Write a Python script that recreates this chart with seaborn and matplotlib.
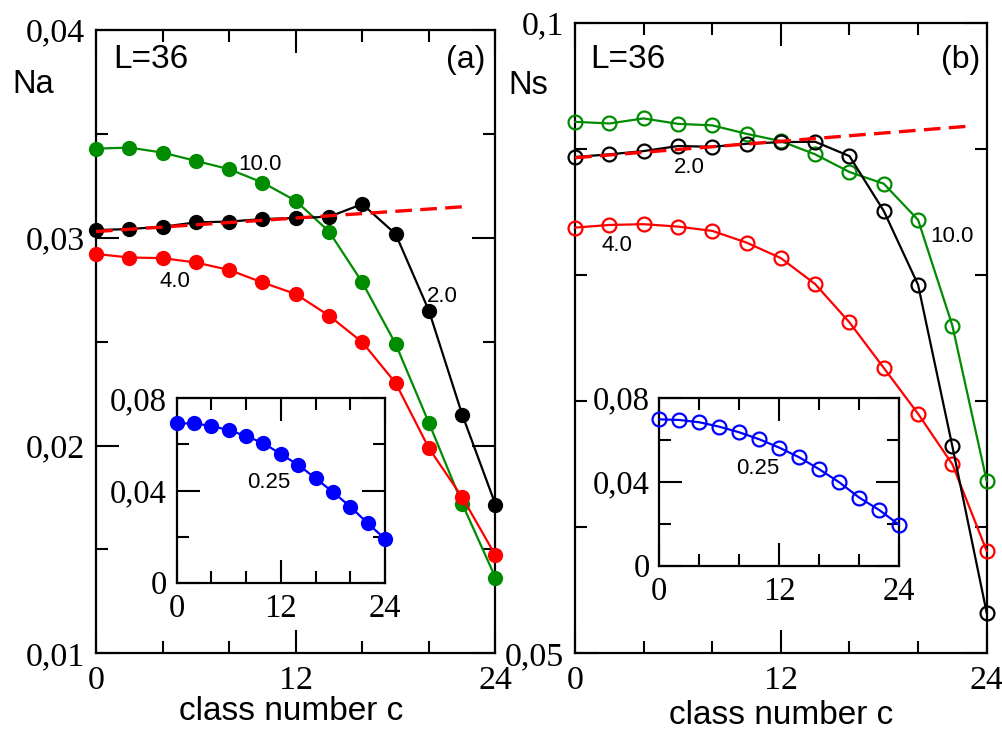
import numpy as np
import pandas as pd
import matplotlib
matplotlib.use("Agg")
import matplotlib.pyplot as plt
import seaborn as sns

# ---------------- data ----------------
c = [0, 2, 4, 6, 8, 10, 12, 14, 16, 18, 20, 22, 24]

# panel (a): Na
na_10 = [0.03429, 0.03434, 0.03410, 0.03370, 0.03330, 0.03266, 0.03178,
         0.03030, 0.02785, 0.02489, 0.02109, 0.01720, 0.01364]
na_2 = [0.03037, 0.03042, 0.03053, 0.03074, 0.03078, 0.03090, 0.03095,
        0.03101, 0.03162, 0.03018, 0.02649, 0.02149, 0.01716]
na_4 = [0.02922, 0.02905, 0.02902, 0.02881, 0.02845, 0.02785, 0.02729,
        0.02625, 0.02497, 0.02301, 0.01987, 0.01751, 0.01471]
na_fit_c = [0, 22]
na_fit = [0.03030, 0.03149]
na_025 = [0.0691, 0.0691, 0.0680, 0.0662, 0.0636, 0.0605, 0.0558,
          0.0511, 0.0453, 0.0393, 0.0330, 0.0258, 0.0190]

# panel (b): Ns
ns_10 = [0.09216, 0.09203, 0.09243, 0.09200, 0.09188, 0.09121, 0.09063,
         0.08958, 0.08818, 0.08725, 0.08438, 0.07599, 0.06366]
ns_2 = [0.08937, 0.08958, 0.08984, 0.09024, 0.09018, 0.09042, 0.09055,
        0.09058, 0.08944, 0.08509, 0.07923, 0.06641, 0.05321]
ns_4 = [0.08377, 0.08398, 0.08404, 0.08385, 0.08351, 0.08258, 0.08135,
        0.07929, 0.07625, 0.07264, 0.06900, 0.06499, 0.05812]
ns_fit_c = [0, 23]
ns_fit = [0.08931, 0.09182]
ns_025 = [0.0697, 0.0694, 0.0683, 0.0662, 0.0635, 0.0602, 0.0562,
          0.0516, 0.0459, 0.0397, 0.0324, 0.0265, 0.0194]

x_ticks_major = [0, 12, 24]
x_tick_labels = ["0", "12", "24"]
na_yticks = [0.01, 0.02, 0.03, 0.04]
na_ylabels = ["0,01", "0,02", "0,03", "0,04"]
ns_yticks = [0.05, 0.1]
ns_ylabels = ["0,05", "0,1"]
in_yticks = [0, 0.04, 0.08]
in_ylabels = ["0", "0,04", "0,08"]

# ---------------- style ----------------
sns.set_style("ticks")
plt.rcParams["font.family"] = ["Liberation Sans", "DejaVu Sans"]
plt.rcParams["text.color"] = "black"
plt.rcParams["xtick.color"] = "black"
plt.rcParams["ytick.color"] = "black"
plt.rcParams["xtick.labelcolor"] = "black"
plt.rcParams["ytick.labelcolor"] = "black"

GREEN = "#008c00"
RED = "#ff0000"
BLACK = "#000000"
BLUE = "#0000ff"

W, H = 1003, 729
fig = plt.figure(figsize=(W / 100, H / 100), dpi=100)


def px_axes(l, t, r, b):
    return fig.add_axes([l / W, 1 - b / H, (r - l) / W, (b - t) / H])


def style_axes(ax, xlim, ylim, yt, ylab, yminor, fs, tick_pad):
    ax.set_xlim(*xlim)
    ax.set_ylim(*ylim)
    ax.set_xticks(x_ticks_major)
    ax.set_xticklabels(x_tick_labels, family="Liberation Serif", fontsize=fs,
                       color="black")
    ax.set_xticks([4, 8, 16, 20], minor=True)
    ax.set_yticks(yt)
    ax.set_yticklabels(ylab, family="Liberation Serif", fontsize=fs,
                       color="black")
    ax.set_yticks(yminor, minor=True)
    ax.tick_params(which="both", direction="in", top=True, right=True,
                   width=1.5, color="black")
    ax.tick_params(which="major", length=16.5)
    ax.tick_params(which="minor", length=8.5)
    ax.tick_params(axis="x", which="major", pad=tick_pad)
    ax.tick_params(axis="y", which="major", pad=tick_pad - 1)
    for s in ax.spines.values():
        s.set_visible(True)
        s.set_linewidth(1.6)
        s.set_color("black")
    ax.set_xlabel("")
    ax.set_ylabel("")
    if ax.get_legend() is not None:
        ax.get_legend().remove()


def series(ax, x, y, color, filled, ms):
    if filled:
        sns.lineplot(x=x, y=y, ax=ax, color=color, linewidth=1.6, marker="o",
                     markersize=ms, markerfacecolor=color,
                     markeredgecolor=color, markeredgewidth=0, clip_on=False,
                     zorder=3)
    else:
        sns.lineplot(x=x, y=y, ax=ax, color=color, linewidth=1.6, marker="o",
                     markersize=ms, markerfacecolor="none",
                     markeredgecolor=color, markeredgewidth=1.6, clip_on=False,
                     zorder=3)


# ---------------- panel (a) ----------------
ax_a = px_axes(96, 30, 495.5, 653.3)
series(ax_a, c, na_10, GREEN, True, 11)
series(ax_a, c, na_4, RED, True, 11)
series(ax_a, c, na_2, BLACK, True, 11)
sns.lineplot(x=na_fit_c, y=na_fit, ax=ax_a, color=RED, linewidth=2.4,
             linestyle=(0, (5, 2.5)), zorder=4)
style_axes(ax_a, (0, 24), (0.01, 0.04), na_yticks, na_ylabels,
           [0.015, 0.025, 0.035], 24.5, 9)

# ---------------- panel (b) ----------------
ax_b = px_axes(575, 23, 986.7, 653.3)
series(ax_b, c, ns_10, GREEN, False, 10)
series(ax_b, c, ns_4, RED, False, 10)
series(ax_b, c, ns_2, BLACK, False, 10)
sns.lineplot(x=ns_fit_c, y=ns_fit, ax=ax_b, color=RED, linewidth=2.4,
             linestyle=(0, (5, 2.5)), zorder=4)
style_axes(ax_b, (0, 24), (0.05, 0.1), ns_yticks, ns_ylabels,
           [0.06, 0.07, 0.08, 0.09], 24.5, 9)

# ---------------- insets ----------------
in_a = px_axes(176.7, 398.3, 385, 582.7)
series(in_a, c, na_025, BLUE, True, 11)
style_axes(in_a, (0, 24), (0, 0.08), in_yticks, in_ylabels,
           [0.02, 0.06], 23.5, 8)

in_b = px_axes(659.3, 397.7, 899.3, 565.7)
series(in_b, c, ns_025, BLUE, False, 10)
style_axes(in_b, (0, 24), (0, 0.08), in_yticks, in_ylabels,
           [0.02, 0.06], 23.5, 8)


# ---------------- texts ----------------
def ftext(x, y, s, size, ha="left"):
    fig.text(x / W, 1 - y / H, s, fontsize=size, ha=ha, va="baseline",
             color="black")


ftext(12, 92.7, "Na", 23.5)
ftext(508, 94, "Ns", 23.5)
ftext(113, 68, "L=36", 24)
ftext(590, 68, "L=36", 24)
ftext(485, 68, "(a)", 23, ha="right")
ftext(980, 68, "(b)", 23, ha="right")
ftext(291.5, 720, "class number c", 24, ha="center")
ftext(780.8, 724, "class number c", 24, ha="center")

ftext(238, 170, "10.0", 16)
ftext(160, 287, "4.0", 16)
ftext(427, 302, "2.0", 16)
ftext(247, 488, "0.25", 16)
ftext(674, 173, "2.0", 16)
ftext(602, 251, "4.0", 16)
ftext(930, 242, "10.0", 16)
ftext(735.7, 474, "0.25", 16)

fig.savefig("out.png", dpi=100, facecolor="white")
